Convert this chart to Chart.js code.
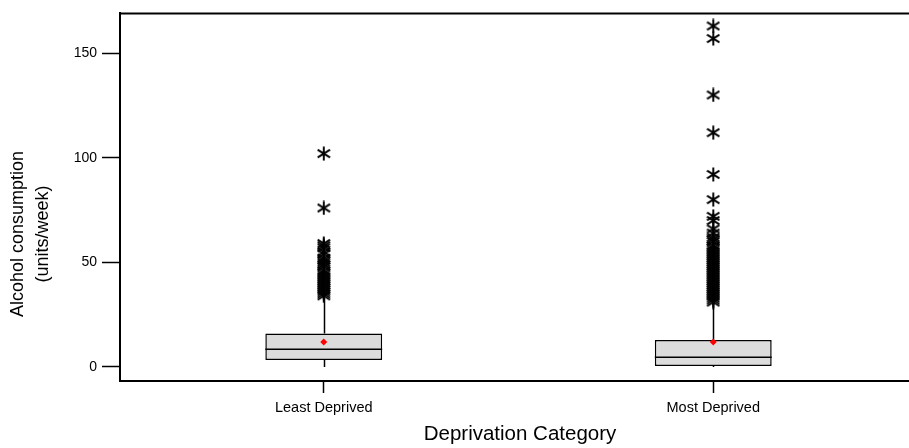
<!DOCTYPE html>
<html>
<head>
<meta charset="utf-8">
<script src="https://cdn.jsdelivr.net/npm/chart.js@4.4.1/dist/chart.umd.min.js"></script>
<style>
html,body{margin:0;padding:0;background:#fff;overflow:hidden}
#wrap{width:909px;height:448px}
</style>
</head>
<body>
<div id="wrap"><canvas id="c" width="909" height="448"></canvas></div>
<script>
// box plot summary per deprivation group
const categories = ["Least Deprived", "Most Deprived"];
const q1 = [3.3, 0.5];
const median = [8.5, 4.6];
const q3 = [16, 12.9];
const whiskerLow = [0, 0];
const whiskerHigh = [33, 30.5];
const means = [12, 12];
const outliersLeast = [102, 76, 59, 58, 57, 55, 54, 52, 51, 50, 49, 48, 46, 45, 44, 43, 42, 41, 40, 39, 38, 37, 36, 35, 34];
const outliersMost = [163, 157, 130, 112, 92, 80, 72, 70, 66, 64, 62, 61, 60, 58, 57, 56, 55, 54, 53, 52, 51, 50, 49, 48, 47, 46, 45, 44, 43, 42, 41, 40, 39, 38, 37, 36, 35, 34, 33, 32, 31];
const yTicks = [0, 50, 100, 150];

const FONT = "'Liberation Sans', Arial, sans-serif";
Chart.defaults.font.family = FONT;
Chart.defaults.color = "#000";

// six armed asterisk used for outliers
const star = document.createElement("canvas");
star.width = 14; star.height = 15;
(() => {
  const g = star.getContext("2d");
  g.strokeStyle = "#000"; g.lineWidth = 1.9;
  g.beginPath();
  g.moveTo(7, 0.5); g.lineTo(7, 14.5);
  g.moveTo(0.8, 3.6); g.lineTo(13.2, 11.4);
  g.moveTo(0.8, 11.4); g.lineTo(13.2, 3.6);
  g.stroke();
})();

const boxParts = {
  id: "boxParts",
  beforeDatasetsDraw(chart) {
    const { ctx, scales: { x, y } } = chart;
    ctx.save();
    ctx.strokeStyle = "#000"; ctx.lineWidth = 1.5;
    ctx.beginPath();
    categories.forEach((c, i) => {
      const px = Math.round(x.getPixelForValue(i + 1)) + 0.5;
      ctx.moveTo(px, y.getPixelForValue(q3[i])); ctx.lineTo(px, y.getPixelForValue(whiskerHigh[i]));
      ctx.moveTo(px, y.getPixelForValue(q1[i])); ctx.lineTo(px, y.getPixelForValue(whiskerLow[i]));
    });
    ctx.stroke();
    ctx.restore();
  },
  afterDatasetDraw(chart, args) {
    if (args.index !== 2) return;
    const { ctx, scales: { y } } = chart;
    ctx.save();
    ctx.strokeStyle = "#000"; ctx.lineWidth = 1.5;
    ctx.beginPath();
    args.meta.data.forEach((bar, i) => {
      const py = y.getPixelForValue(median[i]);
      ctx.moveTo(bar.x - bar.width / 2, py); ctx.lineTo(bar.x + bar.width / 2, py);
    });
    ctx.stroke();
    ctx.restore();
  },
  afterDraw(chart) {
    const { ctx, chartArea: a } = chart;
    ctx.save();
    // frame runs off the right edge of the picture
    ctx.strokeStyle = "#000"; ctx.lineWidth = 2;
    ctx.beginPath();
    ctx.moveTo(a.left - 1, a.top); ctx.lineTo(chart.width, a.top);
    ctx.moveTo(a.right - 1, a.bottom); ctx.lineTo(chart.width, a.bottom);
    ctx.stroke();
    ctx.fillStyle = "#000";
    ctx.font = "20.5px " + FONT;
    ctx.textAlign = "center"; ctx.textBaseline = "alphabetic";
    ctx.fillText("Deprivation Category", 520, 440);
    ctx.font = "18px " + FONT;
    [["Alcohol consumption", 23], ["(units/week)", 48]].forEach(([t, bx]) => {
      ctx.save(); ctx.translate(bx, 234); ctx.rotate(-Math.PI / 2); ctx.fillText(t, 0, 0); ctx.restore();
    });
    ctx.restore();
  }
};

new Chart(document.getElementById("c"), {
  type: "bar",
  data: {
    datasets: [
      { type: "scatter", data: means.map((m, i) => ({ x: i + 1, y: m })), pointStyle: "rectRot", pointRadius: 3.5, backgroundColor: "#ff0000", borderColor: "#ff0000", borderWidth: 0 },
      { type: "scatter", data: [...outliersLeast.map(v => ({ x: 1, y: v })), ...outliersMost.map(v => ({ x: 2, y: v }))], pointStyle: star },
      { type: "bar", data: categories.map((c, i) => ({ x: i + 1, y: [q1[i], q3[i]] })), backgroundColor: "#dcdcdc", borderColor: "#000", borderWidth: 1.5, borderSkipped: false, barPercentage: 0.3, categoryPercentage: 1 }
    ]
  },
  options: {
    responsive: false, animation: false, devicePixelRatio: 1,
    layout: { padding: { top: 12, right: 0, bottom: 0, left: 0 } },
    plugins: { legend: { display: false }, tooltip: { enabled: false } },
    scales: {
      x: {
        type: "linear", min: 0.4769, max: 2.4897, offset: false,
        afterBuildTicks: s => { s.ticks = categories.map((c, i) => ({ value: i + 1 })); },
        afterFit: s => { s.height = 67; },
        border: { color: "#000", width: 2 },
        grid: { offset: false, drawOnChartArea: false, tickLength: 12, tickColor: "#000", tickWidth: 1.5 },
        ticks: { callback: v => categories[v - 1], autoSkip: false, maxRotation: 0, padding: 6, font: { size: 14.5 } }
      },
      y: {
        min: -6.7, max: 169,
        afterBuildTicks: s => { s.ticks = yTicks.map(v => ({ value: v })); },
        afterFit: s => { s.width = 120; },
        border: { color: "#000", width: 2 },
        grid: { drawOnChartArea: false, tickLength: 18, tickColor: "#000", tickWidth: 1.5 },
        ticks: { padding: 5, font: { size: 14 } }
      }
    }
  },
  plugins: [boxParts]
});
</script>
</body>
</html>
